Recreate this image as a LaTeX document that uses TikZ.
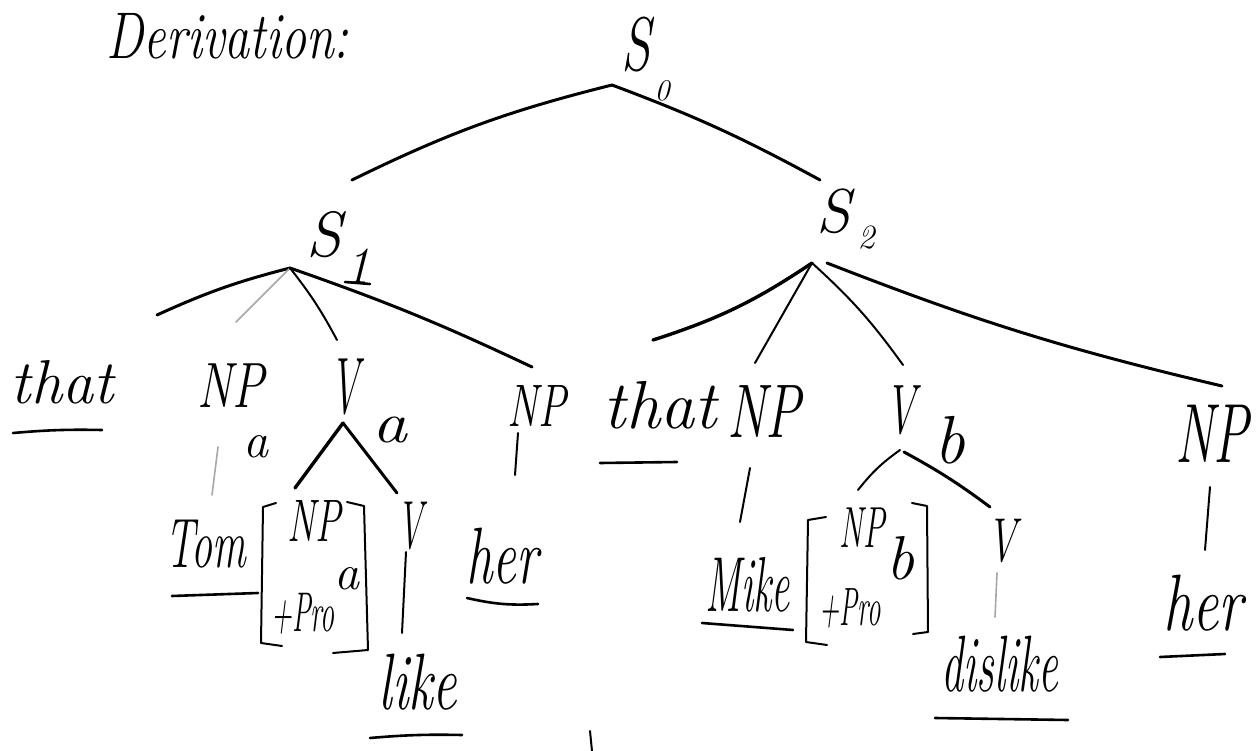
\documentclass[tikz,border=0pt]{standalone}
\newcommand{\hwx}[2]{\scalebox{#1}[1]{#2}}
\begin{document}
\begin{tikzpicture}[x=1pt,y=-1pt,
  hand/.style={font=\fontsize{#1}{#1}\selectfont\itshape, inner sep=0pt, anchor=center},
  branch/.style={line width=3pt, line cap=round},
  thin branch/.style={line width=2pt, line cap=round},
  faint/.style={line width=1.6pt, gray!70, line cap=round},
  uline/.style={line width=2.6pt, line cap=round},
  brak/.style={line width=2pt, line cap=round, line join=round},
]
\useasboundingbox (0,0) rectangle (1258,751);
\fill[white] (0,0) rectangle (1258,751);

% heading
\node[hand=66] (deriv) at (228,36) {\hwx{0.76}{Derivation:}};

% sentence labels
\node[hand=76] (s0) at (636,45) {\hwx{0.7}{S}};
\node[hand=30] (s0sub) at (662,91) {0};
\node[hand=64] (s1) at (324,235) {S};
\node[hand=52] (s1sub) at (357,266) {1};
\node[hand=62] (s2) at (834,211) {S};
\node[hand=34] (s2sub) at (866,238) {2};

% constituents of S1
\node[hand=62] (that1) at (62,382) {that};
\node[hand=64] (npa) at (231,386) {\hwx{0.75}{NP}};
\node[hand=50] (npasub) at (256,447) {a};
\node[hand=80] (va) at (345,387) {\hwx{0.5}{V}};
\node[hand=58] (vasub) at (390,430) {\hwx{1.2}{a}};
\node[hand=60] (np1) at (537,406) {\hwx{0.7}{NP}};

% constituents of S2
\node[hand=68] (that2) at (660,405) {that};
\node[hand=76] (npb) at (764,412) {\hwx{0.7}{NP}};
\node[hand=70] (vb) at (901,410) {\hwx{0.6}{V}};
\node[hand=68] (vbsub) at (950,440) {b};
\node[hand=84] (np2) at (1212,434) {\hwx{0.63}{NP}};

% lexical level under S1
\node[hand=70] (tom) at (206,544) {\hwx{0.6}{Tom}};
\node[hand=60] (bna) at (314,521) {\hwx{0.64}{NP}};
\node[hand=50] (bnasub) at (347,579) {a};
\node[hand=56] (bpa) at (303,614) {\hwx{0.5}{+Pro}};
\node[hand=68] (v1) at (410,526) {\hwx{0.52}{V}};
\node[hand=80] (like) at (418,682) {\hwx{0.68}{like}};
\node[hand=80] (her1) at (502,556) {\hwx{0.66}{her}};

% lexical level under S2
\node[hand=78] (mike) at (748,585) {\hwx{0.52}{Mike}};
\node[hand=58] (bnb) at (862,528) {\hwx{0.56}{NP}};
\node[hand=62] (bnbsub) at (900,558) {b};
\node[hand=54] (bpb) at (850,608) {\hwx{0.5}{+Pro}};
\node[hand=62] (v2) at (1002,541) {\hwx{0.65}{V}};
\node[hand=80] (dislike) at (1000,664) {\hwx{0.55}{dislike}};
\node[hand=80] (her2) at (1203,603) {\hwx{0.73}{her}};

% branch points and branch ends
\coordinate (s0top) at (612,85);
\coordinate (s0l) at (352,180);
\coordinate (s0r) at (820,180);
\coordinate (s1top) at (290,268);
\coordinate (s1a) at (157,315);
\coordinate (s1b) at (236,322);
\coordinate (s1c) at (337,340);
\coordinate (s1d) at (532,367);
\coordinate (s2top) at (812,263);
\coordinate (s2topr) at (827,263);
\coordinate (s2a) at (653,340);
\coordinate (s2b) at (755,363);
\coordinate (s2c) at (903,365);
\coordinate (s2d) at (1222,386);
\coordinate (vatop) at (343,423);
\coordinate (val) at (295,488);
\coordinate (var) at (397,493);
\coordinate (vbtop) at (900,450);
\coordinate (vbtopr) at (904,452);
\coordinate (vbl) at (858,490);
\coordinate (vbr) at (990,507);
\coordinate (npal) at (218,447);
\coordinate (npae) at (212,495);
\coordinate (np1l) at (518,433);
\coordinate (np1e) at (515,475);
\coordinate (npbl) at (750,468);
\coordinate (npbe) at (740,522);
\coordinate (v1l) at (406,552);
\coordinate (v1e) at (402,633);
\coordinate (v2l) at (997,573);
\coordinate (v2e) at (995,617);
\coordinate (np2l) at (1210,487);
\coordinate (np2e) at (1205,550);
\coordinate (tick) at (590,731);
\coordinate (ticke) at (592,751);

% tree branches
\draw[branch] (s0top) to[bend right=6] (s0l);
\draw[branch] (s0top) to[bend left=4] (s0r);
\draw[branch] (s1top) to[bend right=5] (s1a);
\draw[faint] (s1top) -- (s1b);
\draw[thin branch] (s1top) to[bend left=5] (s1c);
\draw[branch] (s1top) to[bend left=3] (s1d);
\draw[line width=3.4pt, line cap=round] (s2top) to[bend left=8] (s2a);
\draw[thin branch] (s2top) -- (s2b);
\draw[thin branch] (s2top) to[bend left=6] (s2c);
\draw[branch] (s2topr) to[bend right=4] (s2d);
\draw[line width=3.4pt, line cap=round] (vatop) -- (val);
\draw[branch] (vatop) -- (var);
\draw[thin branch] (vbtop) to[bend right=8] (vbl);
\draw[branch] (vbtopr) to[bend left=4] (vbr);

% unary links
\draw[faint] (npal) -- (npae);
\draw[thin branch] (np1l) -- (np1e);
\draw[thin branch] (npbl) -- (npbe);
\draw[thin branch] (v1l) -- (v1e);
\draw[faint] (v2l) -- (v2e);
\draw[thin branch] (np2l) -- (np2e);
\draw[thin branch] (tick) -- (ticke);

% underlines of the terminals
\draw[uline] (13,433) to[bend left=3] (102,430);
\draw[uline] (172,596) -- (258,593);
\draw[uline] (370,738) to[bend left=3] (462,735);
\draw[uline] (467,598) to[bend right=8] (538,604);
\draw[uline] (600,463) -- (677,462);
\draw[uline] (702,623) -- (793,630);
\draw[uline] (935,718) -- (1068,720);
\draw[uline] (1160,657) -- (1225,654);
\draw[uline] (345,282) -- (370,284);

% brackets around the pronoun features
\draw[brak] (276,503) -- (263,507) -- (261,643) -- (282,646);
\draw[brak] (347,502) -- (364,506) -- (368,650) -- (333,653);
\draw[brak] (826,517) -- (808,520) -- (806,642) -- (827,645);
\draw[brak] (912,503) -- (927,506) -- (928,632) -- (913,634);

\end{tikzpicture}
\end{document}
